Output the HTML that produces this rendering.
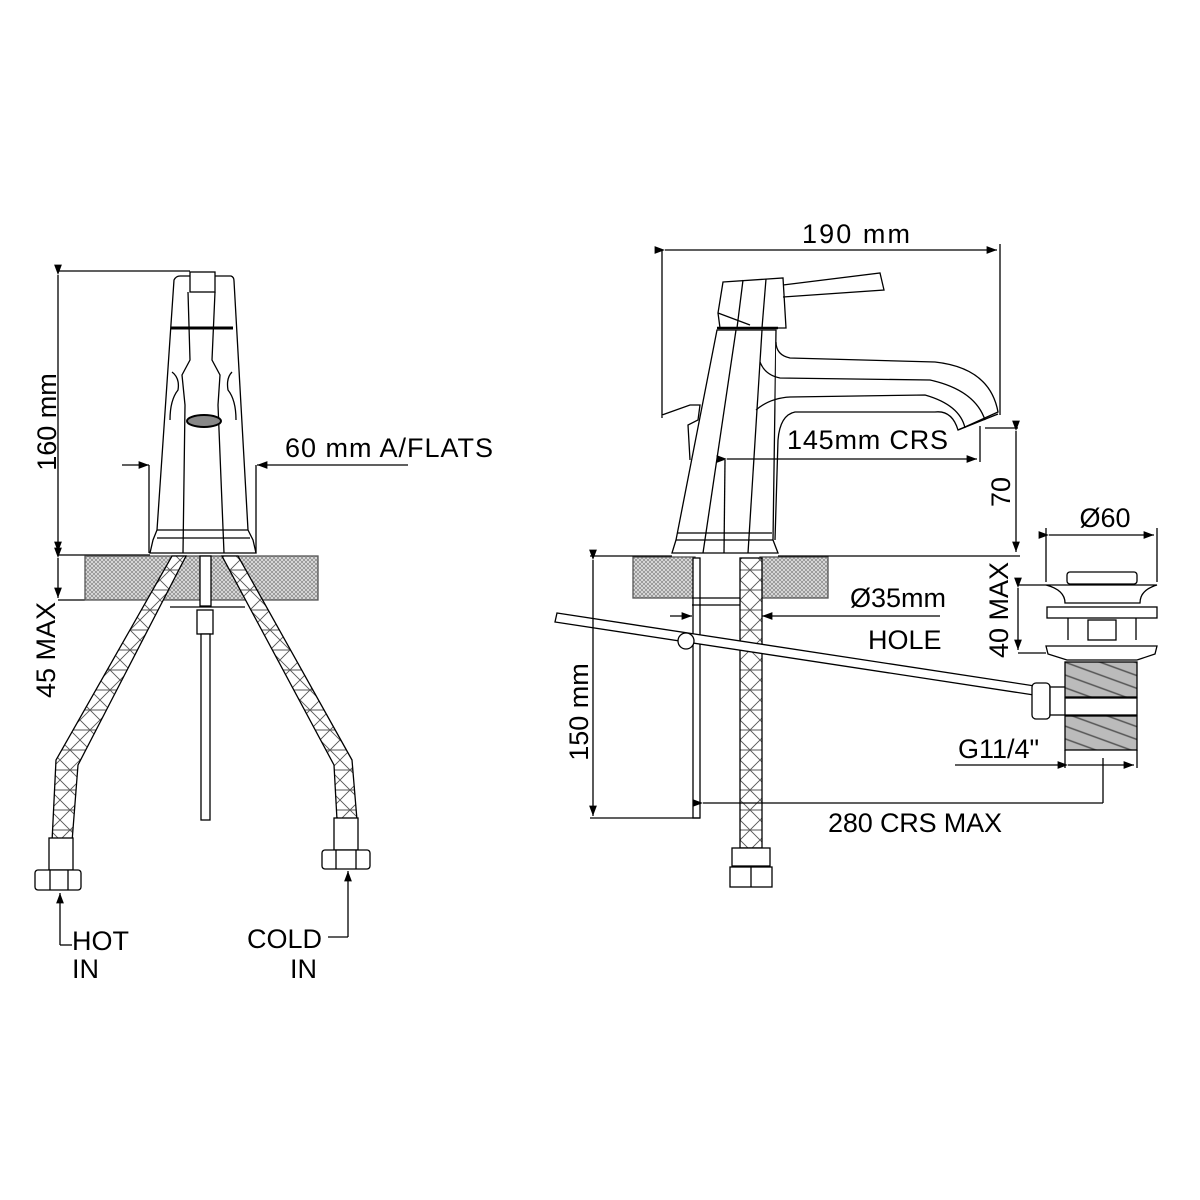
<!DOCTYPE html>
<html><head><meta charset="utf-8"><style>
html,body{margin:0;padding:0;background:#fff}
svg{display:block}
text{font-family:"Liberation Sans",sans-serif;fill:#000;font-size:27px}
</style></head><body>
<svg width="1200" height="1200" viewBox="0 0 1200 1200" xmlns="http://www.w3.org/2000/svg">
<defs>
<pattern id="h" width="4" height="4" patternUnits="userSpaceOnUse"><rect width="4" height="4" fill="#ddd"/><path d="M0,4L4,0M0,0L4,4" stroke="#777" stroke-width="0.6"/></pattern>
<pattern id="x" width="20" height="20" patternUnits="userSpaceOnUse"><rect width="20" height="20" fill="#fff"/><path d="M0,0L20,20M20,0L0,20M0,10H20" stroke="#555" stroke-width="0.9"/></pattern>
<pattern id="t" width="12" height="12" patternUnits="userSpaceOnUse" patternTransform="rotate(20)"><rect width="12" height="12" fill="#bbb"/><path d="M0,6H12" stroke="#555" stroke-width="1.5"/></pattern>
<marker id="a" markerWidth="8" markerHeight="6" refX="8" refY="3" orient="auto"><path d="M0,0L8,3L0,6z" fill="#000"/></marker>
</defs>
<g fill="none" stroke="#000" stroke-width="1.3">
<line x1="58" y1="271" x2="190" y2="271"/>
<line x1="58" y1="275" x2="58" y2="552" marker-start="url(#a)" marker-end="url(#a)"/>
<line x1="58" y1="558" x2="58" y2="598" marker-start="url(#a)" marker-end="url(#a)"/>
<line x1="58" y1="555" x2="150" y2="555"/>
<line x1="58" y1="600" x2="85" y2="600"/>
<rect x="85" y="556" width="233" height="44" fill="url(#h)" stroke="#555"/>
<path d="M172,556 L186,556 L78,765 L72,842 L52,842 L56,760 Z" fill="url(#x)"/>
<path d="M222,556 L238,556 L352,760 L357,820 L337,820 L334,765 Z" fill="url(#x)"/>
<rect x="49" y="838" width="24" height="32" fill="#fff"/>
<rect x="35" y="870" width="46" height="20" rx="3" fill="#fff"/>
<line x1="50" y1="870" x2="50" y2="890"/><line x1="68" y1="870" x2="68" y2="890"/>
<rect x="334" y="818" width="24" height="32" fill="#fff"/>
<rect x="322" y="850" width="48" height="19" rx="3" fill="#fff"/>
<line x1="336" y1="850" x2="336" y2="869"/><line x1="356" y1="850" x2="356" y2="869"/>
<rect x="200" y="556" width="11" height="50" fill="#fff"/>
<rect x="197" y="610" width="16" height="24" fill="#fff"/>
<rect x="201" y="634" width="9" height="186" fill="#fff"/>
<line x1="170" y1="607" x2="245" y2="607"/>
<path d="M150,553 L153,540 L157,530 L174,280 Q176,276 180,276 L231,276 Q234,277 234,281 L248,530 L253,540 L256,553 Z" fill="#fff"/>
<line x1="157" y1="530" x2="248" y2="530"/>
<line x1="157" y1="538" x2="250" y2="538"/>
<rect x="190" y="272" width="25" height="20" fill="#fff"/>
<line x1="171" y1="328" x2="233" y2="328" stroke-width="3"/>
<path d="M188,292 L190,360 L182,375 L185,405 L183,553"/>
<path d="M215,292 L212,360 L220,375 L218,405 L224,553"/>
<path d="M172,372 Q180,378 178,390 Q170,400 170,420"/>
<path d="M232,372 Q226,378 228,390 Q236,400 236,420"/>
<ellipse cx="204" cy="421" rx="17" ry="6" fill="#888" stroke-width="2"/>
<line x1="122" y1="465" x2="149" y2="465" marker-end="url(#a)"/>
<line x1="149" y1="465" x2="149" y2="553"/>
<line x1="408" y1="465" x2="257" y2="465" marker-end="url(#a)"/>
<line x1="256" y1="465" x2="256" y2="553"/>
<path d="M60,945 L60,893" marker-end="url(#a)"/><line x1="60" y1="945" x2="72" y2="945"/>
<path d="M348,937 L348,871" marker-end="url(#a)"/><line x1="348" y1="937" x2="328" y2="937"/>

<line x1="662" y1="250" x2="662" y2="418"/>
<line x1="1000" y1="244" x2="1000" y2="415"/>
<line x1="665" y1="250" x2="997" y2="250" marker-start="url(#a)" marker-end="url(#a)"/>
<rect x="633" y="557" width="62" height="41" fill="url(#h)" stroke="#555"/>
<rect x="760" y="557" width="68" height="41" fill="url(#h)" stroke="#555"/>
<line x1="590" y1="556" x2="672" y2="556"/>
<line x1="778" y1="556" x2="1020" y2="556"/>
<rect x="693" y="558" width="7" height="260" fill="#fff"/>
<line x1="692" y1="598" x2="760" y2="598"/>
<line x1="692" y1="605" x2="760" y2="605"/>
<rect x="740" y="558" width="22" height="290" fill="url(#x)"/>
<rect x="732" y="848" width="38" height="18" fill="#fff"/>
<rect x="730" y="867" width="42" height="20" fill="#fff"/><line x1="751" y1="867" x2="751" y2="887"/>
<path d="M557,613 L1035,686 L1034,695 L555,622 Z" fill="#fff"/>
<circle cx="686" cy="641" r="8" fill="#fff"/>
<rect x="1032" y="683" width="18" height="36" rx="4" fill="#fff"/>
<rect x="1050" y="687" width="16" height="28" fill="#fff"/>
<line x1="593" y1="560" x2="593" y2="816" marker-start="url(#a)" marker-end="url(#a)"/>
<line x1="590" y1="818" x2="700" y2="818"/>
<line x1="703" y1="803" x2="1103" y2="803" marker-start="url(#a)"/>
<line x1="1103" y1="758" x2="1103" y2="803"/>
<line x1="670" y1="616" x2="692" y2="616" marker-end="url(#a)"/>
<line x1="940" y1="616" x2="762" y2="616" marker-end="url(#a)"/>
<path d="M672,553 L676,540 L717,330 L776,330 L773,540 L778,553 Z" fill="#fff"/>
<line x1="676" y1="540" x2="773" y2="540"/><line x1="677" y1="533" x2="772" y2="533"/>
<line x1="736" y1="330" x2="703" y2="553"/><line x1="762" y1="330" x2="748" y2="553"/>
<line x1="725" y1="460" x2="724" y2="553"/>
<path d="M776,342 Q776,355 790,358 L935,362 Q990,368 998,412 L965,427 L958,430 Q952,410 935,412 L795,412 Q780,415 778,440 L775,540" fill="#fff"/>
<path d="M760,362 Q765,375 780,378 L930,380 Q975,390 985,420"/>
<path d="M756,410 Q770,398 790,397 L925,395 Q960,405 965,428"/>
<path d="M958,430 L998,414"/>
<path d="M723,282 L783,278 L786,328 L720,328 L718,313 Z" fill="#fff"/>
<line x1="718" y1="313" x2="750" y2="325"/>
<line x1="743" y1="280" x2="737" y2="328"/><line x1="766" y1="279" x2="762" y2="328"/>
<line x1="717" y1="328" x2="778" y2="328" stroke-width="2.5"/>
<path d="M783,285 L880,273 L884,290 L783,297"/>
<path d="M662,415 L690,405 L700,405 L698,420 L688,425 L690,460" fill="#fff"/>
<line x1="980" y1="426" x2="980" y2="462"/>
<line x1="727" y1="459" x2="977" y2="459" marker-start="url(#a)" marker-end="url(#a)"/>
<line x1="985" y1="428" x2="1018" y2="428"/>
<line x1="1016" y1="431" x2="1016" y2="552" marker-start="url(#a)" marker-end="url(#a)"/>
<line x1="1046" y1="528" x2="1046" y2="582"/><line x1="1157" y1="528" x2="1157" y2="582"/>
<line x1="1049" y1="535" x2="1154" y2="535" marker-start="url(#a)" marker-end="url(#a)"/>
<line x1="1018" y1="585" x2="1046" y2="585"/><line x1="1018" y1="653" x2="1046" y2="653"/>
<line x1="1018" y1="588" x2="1018" y2="650" marker-start="url(#a)" marker-end="url(#a)"/>
<rect x="1067" y="572" width="70" height="12" rx="3" fill="#fff"/>
<path d="M1046,585 L1157,585 Q1140,590 1140,603 L1065,603 Q1065,590 1046,585 Z" fill="#fff"/>
<rect x="1047" y="607" width="110" height="11" fill="#fff"/>
<line x1="1068" y1="618" x2="1068" y2="640"/><line x1="1136" y1="618" x2="1136" y2="640"/>
<rect x="1088" y="620" width="28" height="20" fill="#fff"/>
<path d="M1046,646 L1157,646 L1155,654 L1137,660 L1067,660 L1048,654 Z" fill="#fff"/>
<rect x="1065" y="662" width="72" height="35" fill="url(#t)"/>
<rect x="1065" y="698" width="72" height="17" fill="#fff"/>
<rect x="1065" y="716" width="72" height="34" fill="url(#t)"/>
<line x1="1065" y1="750" x2="1065" y2="768"/><line x1="1137" y1="750" x2="1137" y2="768"/>
<line x1="955" y1="765" x2="1065" y2="765"/>
<line x1="1068" y1="765" x2="1134" y2="765" marker-start="url(#a)" marker-end="url(#a)"/>
</g>
<g>
<text transform="translate(56,422) rotate(-90)" text-anchor="middle">160 mm</text>
<text transform="translate(55,650) rotate(-90)" text-anchor="middle">45 MAX</text>
<text x="285" y="457" textLength="208">60 mm A/FLATS</text>
<text x="72" y="950">HOT</text>
<text x="72" y="978">IN</text>
<text x="322" y="948" text-anchor="end">COLD</text>
<text x="290" y="978">IN</text>
<text x="802" y="243" textLength="108">190 mm</text>
<text x="787" y="449" textLength="161">145mm CRS</text>
<text transform="translate(1010,492) rotate(-90)" text-anchor="middle">70</text>
<text x="1105" y="527" text-anchor="middle">Ø60</text>
<text transform="translate(1008,610) rotate(-90)" text-anchor="middle">40 MAX</text>
<text x="850" y="607">Ø35mm</text>
<text x="868" y="649">HOLE</text>
<text x="958" y="758">G11/4"</text>
<text x="828" y="832" textLength="174">280 CRS MAX</text>
<text transform="translate(588,712) rotate(-90)" text-anchor="middle">150 mm</text>
</g>
</svg>
</body></html>
